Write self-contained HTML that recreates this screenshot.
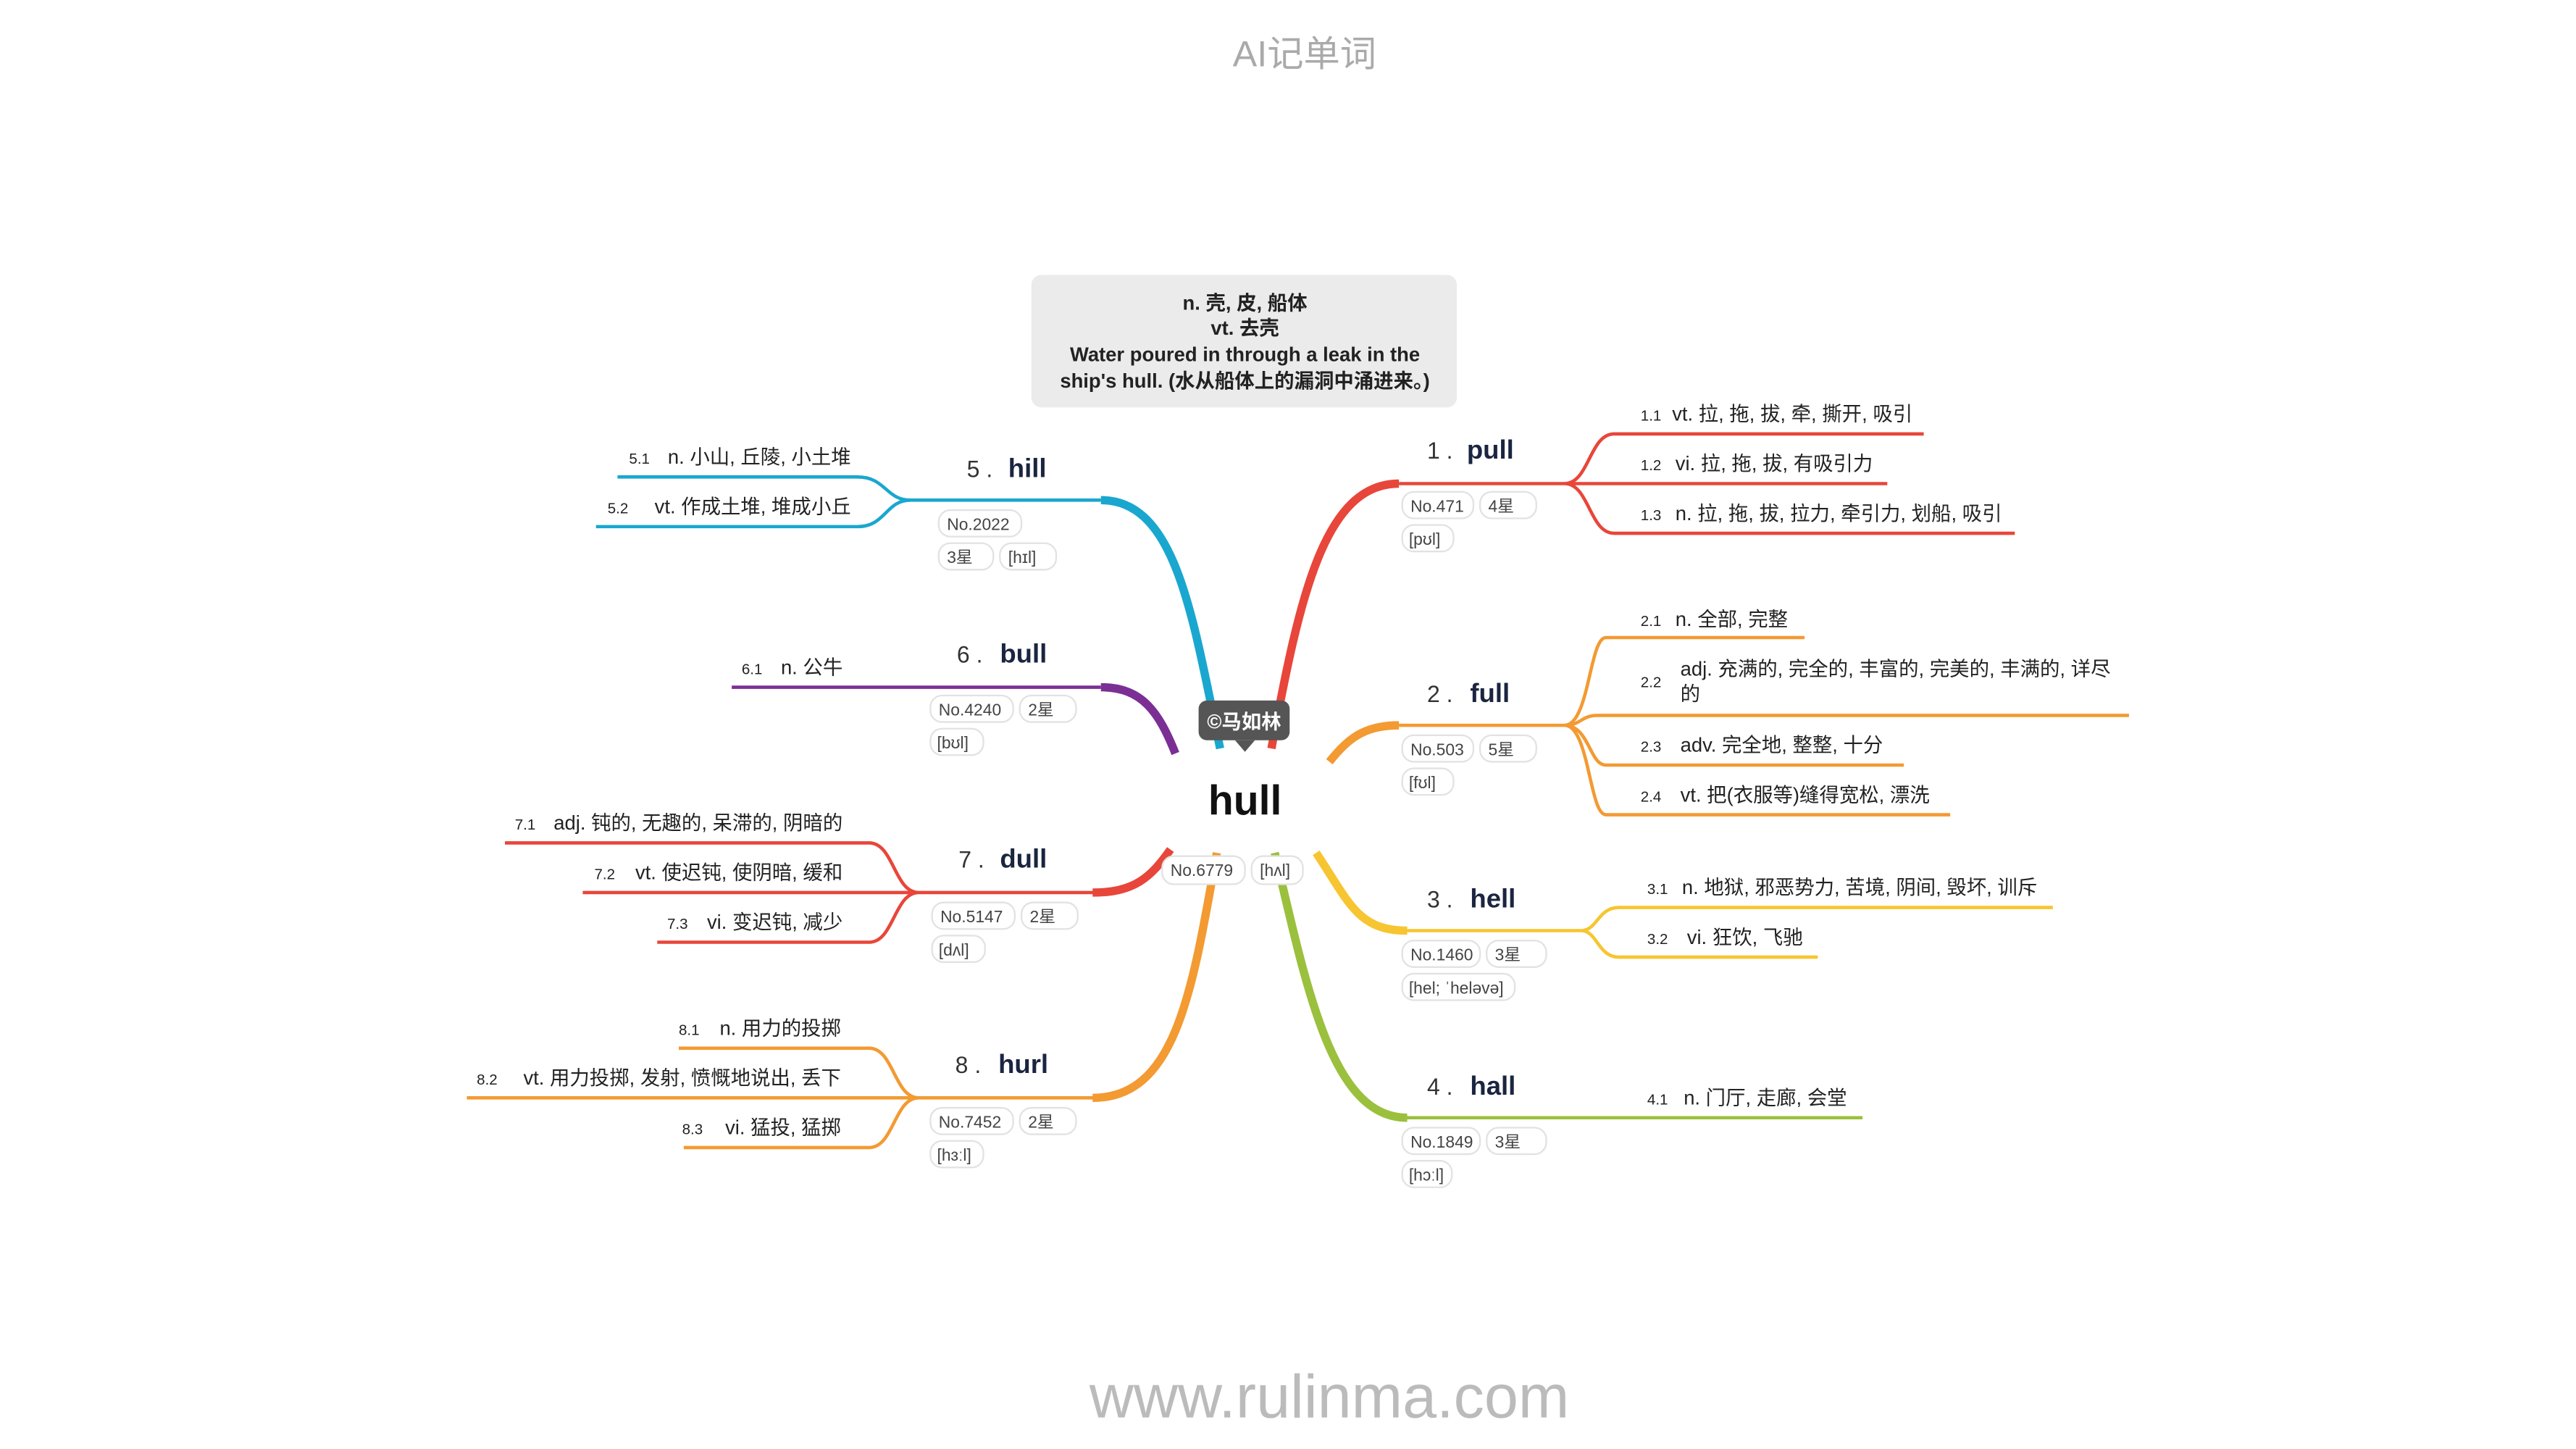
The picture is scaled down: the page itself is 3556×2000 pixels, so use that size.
<!DOCTYPE html>
<html><head><meta charset="utf-8"><style>
html,body{margin:0;padding:0;background:#fff;}
svg{display:block;}
text{font-family:"Liberation Sans","Noto Sans CJK SC",sans-serif;fill:#222;}
.t{font-size:12px;}
.n{font-size:9px;}
.w{font-size:16px;font-weight:bold;fill:#1a2540;}
.k{font-size:14px;fill:#333;}
.g rect{fill:#fff;stroke:#e2e2e2;stroke-width:1;}
.g text{font-size:10px;fill:#444;}
.thin{fill:none;stroke-width:2;}
.thick{fill:none;stroke-width:5;stroke-linecap:butt;}
</style></head><body>
<svg width="3556" height="2000" viewBox="0 0 1556 875" xmlns="http://www.w3.org/2000/svg">
<text x="788" y="40" text-anchor="middle" style="font-size:22px;fill:#aaa">AI记单词</text>
<text x="803" y="856" text-anchor="middle" style="font-size:37px;fill:#bbb">www.rulinma.com</text>

<rect x="623" y="166" width="257" height="80" rx="6" fill="#ebebeb"/>
<g style="font-size:12px;font-weight:bold" text-anchor="middle">
<text x="752" y="187" style="font-weight:bold">n. 壳, 皮, 船体</text>
<text x="752" y="202" style="font-weight:bold">vt. 去壳</text>
<text x="752" y="218" style="font-weight:bold">Water poured in through a leak in the</text>
<text x="752" y="234" style="font-weight:bold">ship's hull. (水从船体上的漏洞中涌进来。)</text>
</g>

<!-- 1 pull red -->
<path class="thick" stroke="#e8463a" d="M768,452 C785,360 800,292 845,292"/>
<path class="thin" stroke="#e8463a" d="M845,292 L945,292 M945,292 C960,292 960,262 975,262 L1162,262 M945,292 L1140,292 M945,292 C960,292 960,322 975,322 L1217,322"/>
<text x="862" y="277" class="k">1 .</text><text x="886" y="277" class="w">pull</text>
<g class="g"><rect x="847" y="297" width="43" height="16" rx="7"/><text x="852" y="309">No.471</text>
<rect x="894" y="297" width="34" height="16" rx="7"/><text x="899" y="309">4星</text>
<rect x="847" y="317" width="31" height="16" rx="7"/><text x="851" y="329">[pʊl]</text></g>
<text x="991" y="254" class="n">1.1</text><text x="1010" y="254" class="t">vt. 拉, 拖, 拔, 牵, 撕开, 吸引</text>
<text x="991" y="284" class="n">1.2</text><text x="1012" y="284" class="t">vi. 拉, 拖, 拔, 有吸引力</text>
<text x="991" y="314" class="n">1.3</text><text x="1012" y="314" class="t">n. 拉, 拖, 拔, 拉力, 牵引力, 划船, 吸引</text>

<!-- 2 full orange -->
<path class="thick" stroke="#f39a32" d="M803,460 C815,445 825,438 845,438"/>
<path class="thin" stroke="#f39a32" d="M845,438 L945,438 M945,438 C960,438 960,385 970,385 L1090,385 M945,438 C955,438 955,432 965,432 L1286,432 M945,438 C960,438 960,462 970,462 L1150,462 M945,438 C960,438 960,492 970,492 L1178,492"/>
<text x="862" y="424" class="k">2 .</text><text x="888" y="424" class="w">full</text>
<g class="g"><rect x="847" y="444" width="43" height="16" rx="7"/><text x="852" y="456">No.503</text>
<rect x="894" y="444" width="34" height="16" rx="7"/><text x="899" y="456">5星</text>
<rect x="847" y="464" width="31" height="16" rx="7"/><text x="851" y="476">[fʊl]</text></g>
<text x="991" y="378" class="n">2.1</text><text x="1012" y="378" class="t">n. 全部, 完整</text>
<text x="991" y="415" class="n">2.2</text><text x="1015" y="408" class="t">adj. 充满的, 完全的, 丰富的, 完美的, 丰满的, 详尽</text><text x="1015" y="423" class="t">的</text>
<text x="991" y="454" class="n">2.3</text><text x="1015" y="454" class="t">adv. 完全地, 整整, 十分</text>
<text x="991" y="484" class="n">2.4</text><text x="1015" y="484" class="t">vt. 把(衣服等)缝得宽松, 漂洗</text>

<!-- 3 hell yellow -->
<path class="thick" stroke="#f7c531" d="M795,515 C815,545 820,562 850,562"/>
<path class="thin" stroke="#f7c531" d="M845,562 L955,562 M955,562 C965,562 965,548 978,548 L1240,548 M955,562 C965,562 965,578 978,578 L1098,578"/>
<text x="862" y="548" class="k">3 .</text><text x="888" y="548" class="w">hell</text>
<g class="g"><rect x="847" y="568" width="47" height="16" rx="7"/><text x="852" y="580">No.1460</text>
<rect x="898" y="568" width="36" height="16" rx="7"/><text x="903" y="580">3星</text>
<rect x="847" y="588" width="68" height="16" rx="7"/><text x="851" y="600">[hel; ˈheləvə]</text></g>
<text x="995" y="540" class="n">3.1</text><text x="1016" y="540" class="t">n. 地狱, 邪恶势力, 苦境, 阴间, 毁坏, 训斥</text>
<text x="995" y="570" class="n">3.2</text><text x="1019" y="570" class="t">vi. 狂饮, 飞驰</text>

<!-- 4 hall green -->
<path class="thick" stroke="#9bc03d" d="M770,515 C790,600 805,675 850,675"/>
<path class="thin" stroke="#9bc03d" d="M845,675 L1125,675"/>
<text x="862" y="661" class="k">4 .</text><text x="888" y="661" class="w">hall</text>
<g class="g"><rect x="847" y="681" width="47" height="16" rx="7"/><text x="852" y="693">No.1849</text>
<rect x="898" y="681" width="36" height="16" rx="7"/><text x="903" y="693">3星</text>
<rect x="847" y="701" width="30" height="16" rx="7"/><text x="851" y="713">[hɔːl]</text></g>
<text x="995" y="667" class="n">4.1</text><text x="1017" y="667" class="t">n. 门厅, 走廊, 会堂</text>

<!-- 5 hill blue -->
<path class="thick" stroke="#1aa7cf" d="M737,452 C720,370 710,302 665,302"/>
<path class="thin" stroke="#1aa7cf" d="M665,302 L550,302 M550,302 C535,302 535,288 518,288 L373,288 M550,302 C535,302 535,318 518,318 L360,318"/>
<text x="584" y="288" class="k">5 .</text><text x="609" y="288" class="w">hill</text>
<g class="g"><rect x="567" y="308" width="50" height="16" rx="7"/><text x="572" y="320">No.2022</text>
<rect x="567" y="328" width="33" height="16" rx="7"/><text x="572" y="340">3星</text>
<rect x="604" y="328" width="34" height="16" rx="7"/><text x="609" y="340">[hɪl]</text></g>
<text x="380" y="280" class="n">5.1</text><text x="514" y="280" class="t" text-anchor="end">n. 小山, 丘陵, 小土堆</text>
<text x="367" y="310" class="n">5.2</text><text x="514" y="310" class="t" text-anchor="end">vt. 作成土堆, 堆成小丘</text>

<!-- 6 bull purple -->
<path class="thick" stroke="#7b2f94" d="M710,455 C700,430 690,415 665,415"/>
<path class="thin" stroke="#7b2f94" d="M665,415 L442,415"/>
<text x="578" y="400" class="k">6 .</text><text x="604" y="400" class="w">bull</text>
<g class="g"><rect x="562" y="420" width="50" height="16" rx="7"/><text x="567" y="432">No.4240</text>
<rect x="616" y="420" width="34" height="16" rx="7"/><text x="621" y="432">2星</text>
<rect x="562" y="440" width="32" height="16" rx="7"/><text x="566" y="452">[bʊl]</text></g>
<text x="448" y="407" class="n">6.1</text><text x="509" y="407" class="t" text-anchor="end">n. 公牛</text>

<!-- 7 dull red -->
<path class="thick" stroke="#e8463a" d="M707,513 C695,530 685,539 660,539"/>
<path class="thin" stroke="#e8463a" d="M665,539 L555,539 M555,539 C540,539 540,509 525,509 L305,509 M555,539 L352,539 M555,539 C540,539 540,569 525,569 L397,569"/>
<text x="579" y="524" class="k">7 .</text><text x="604" y="524" class="w">dull</text>
<g class="g"><rect x="563" y="545" width="50" height="16" rx="7"/><text x="568" y="557">No.5147</text>
<rect x="617" y="545" width="34" height="16" rx="7"/><text x="622" y="557">2星</text>
<rect x="563" y="565" width="32" height="16" rx="7"/><text x="567" y="577">[dʌl]</text></g>
<text x="311" y="501" class="n">7.1</text><text x="509" y="501" class="t" text-anchor="end">adj. 钝的, 无趣的, 呆滞的, 阴暗的</text>
<text x="359" y="531" class="n">7.2</text><text x="509" y="531" class="t" text-anchor="end">vt. 使迟钝, 使阴暗, 缓和</text>
<text x="403" y="561" class="n">7.3</text><text x="509" y="561" class="t" text-anchor="end">vi. 变迟钝, 减少</text>

<!-- 8 hurl orange -->
<path class="thick" stroke="#f39a32" d="M735,515 C720,600 710,663 660,663"/>
<path class="thin" stroke="#f39a32" d="M665,663 L555,663 M555,663 C540,663 540,633 525,633 L410,633 M555,663 L282,663 M555,663 C540,663 540,693 525,693 L413,693"/>
<text x="577" y="648" class="k">8 .</text><text x="603" y="648" class="w">hurl</text>
<g class="g"><rect x="562" y="669" width="50" height="16" rx="7"/><text x="567" y="681">No.7452</text>
<rect x="616" y="669" width="34" height="16" rx="7"/><text x="621" y="681">2星</text>
<rect x="562" y="689" width="32" height="16" rx="7"/><text x="566" y="701">[hɜːl]</text></g>
<text x="410" y="625" class="n">8.1</text><text x="508" y="625" class="t" text-anchor="end">n. 用力的投掷</text>
<text x="288" y="655" class="n">8.2</text><text x="508" y="655" class="t" text-anchor="end">vt. 用力投掷, 发射, 愤慨地说出, 丢下</text>
<text x="412" y="685" class="n">8.3</text><text x="508" y="685" class="t" text-anchor="end">vi. 猛投, 猛掷</text>

<!-- center -->
<rect x="724" y="423" width="55" height="24" rx="5" fill="#555"/>
<path d="M746,447 L752,454 L758,447 Z" fill="#555"/>
<text x="751.5" y="440" text-anchor="middle" style="font-size:12px;font-weight:bold;fill:#fff">©马如林</text>
<text x="752" y="492" text-anchor="middle" style="font-size:25px;font-weight:bold;fill:#111">hull</text>
<g class="g"><rect x="702" y="517" width="50" height="17" rx="7"/><text x="707" y="529">No.6779</text>
<rect x="756" y="517" width="31" height="17" rx="7"/><text x="761" y="529">[hʌl]</text></g>
</svg>
</body></html>
